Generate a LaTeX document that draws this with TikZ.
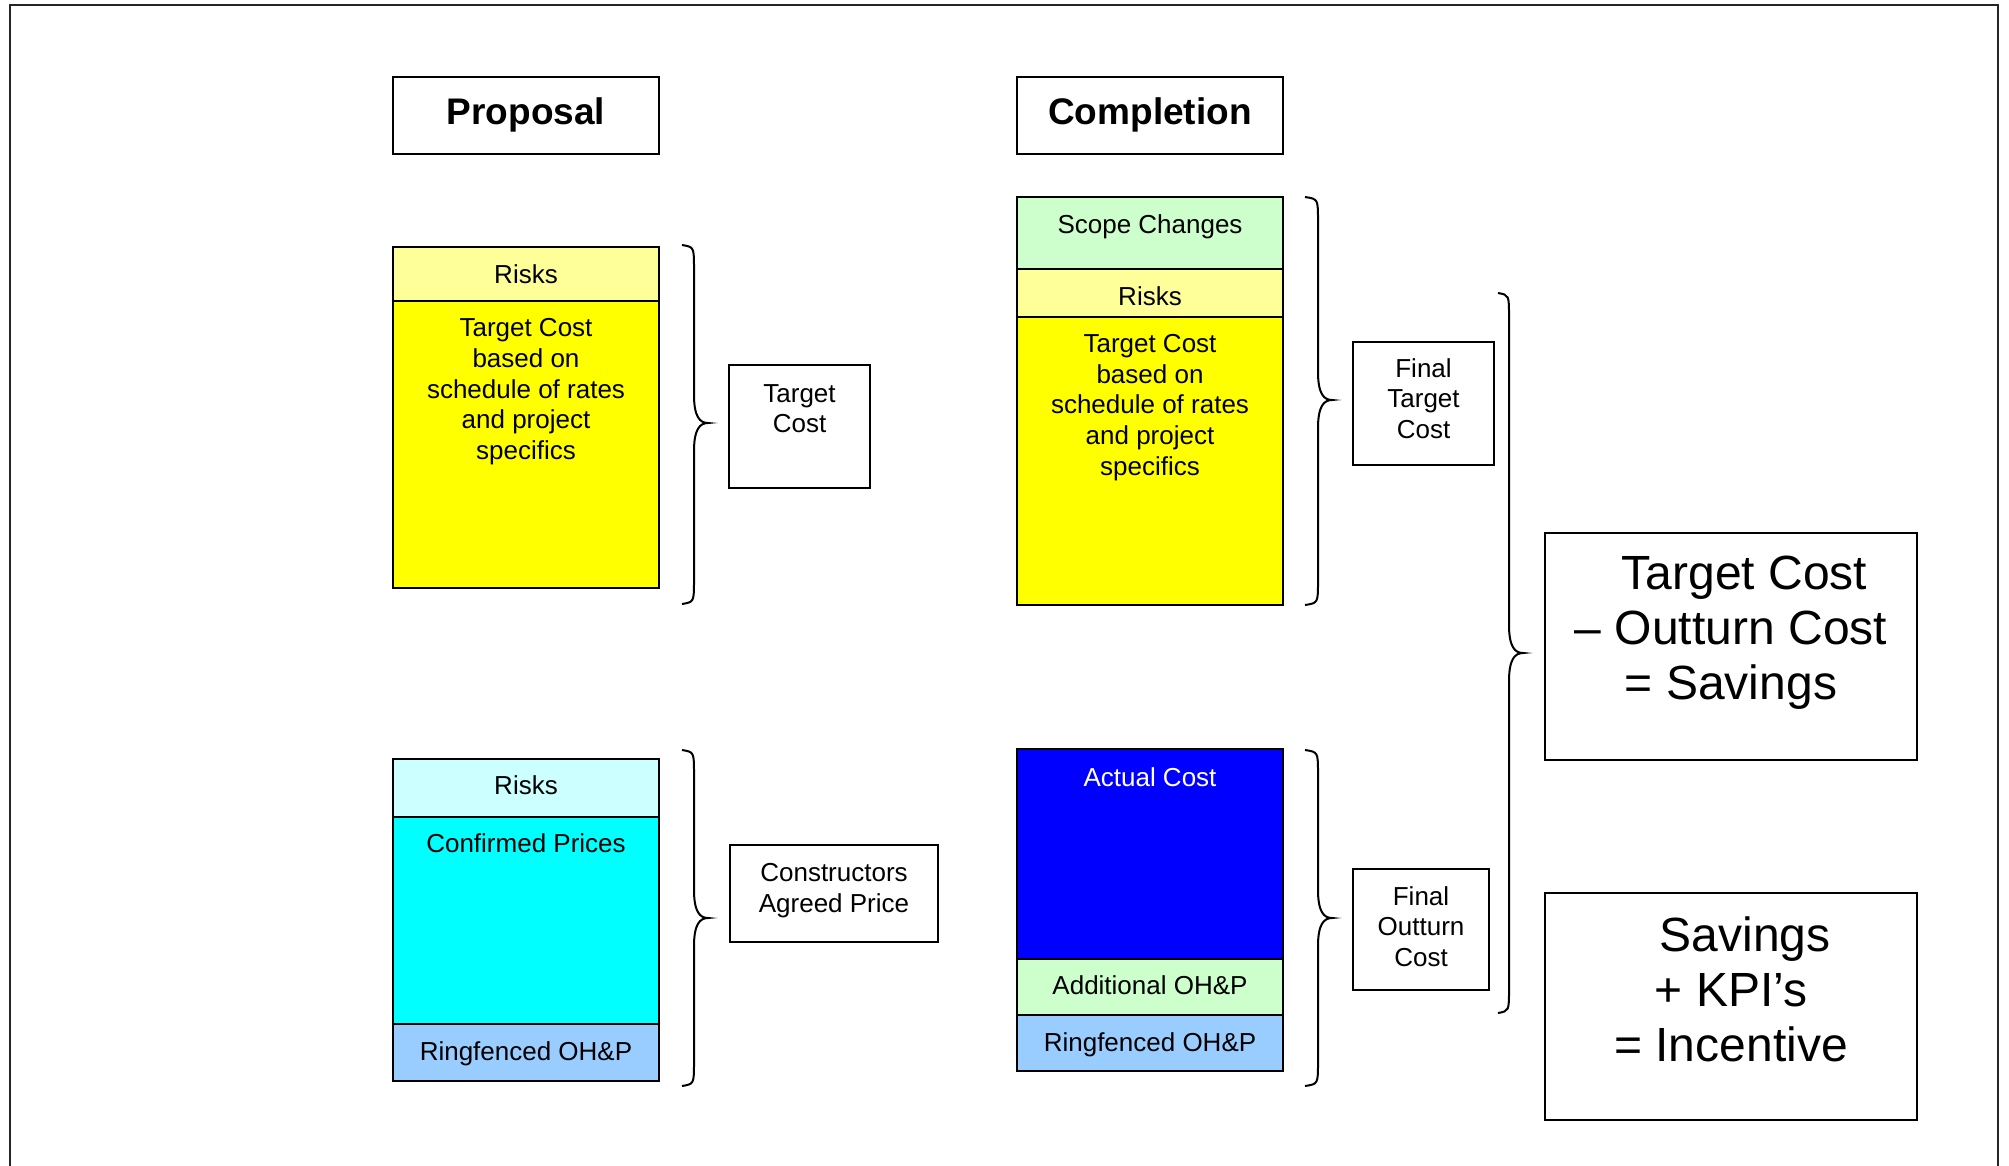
\documentclass[tikz,border=0pt]{standalone}
\usepackage{fontspec}
\setmainfont{Liberation Sans}
\definecolor{lyellow}{HTML}{FFFF99}
\definecolor{yel}{HTML}{FFFF00}
\definecolor{lgreen}{HTML}{CCFFCC}
\definecolor{lcyan}{HTML}{CCFFFF}
\definecolor{cyn}{HTML}{00FFFF}
\definecolor{lblue}{HTML}{99CCFF}
\definecolor{blu}{HTML}{0000FF}
\newcommand{\curlybr}[6]{\draw[bracecurve] (#1,#4) .. controls (#2,#4+2) .. (#2,#4+24) -- (#2,#5-28) .. controls (#2,#5-6) and (#2+6,#5) .. (#3,#5) .. controls (#2+6,#5) and (#2,#5+6) .. (#2,#5+28) -- (#2,#6-24) .. controls (#2,#6-2) .. (#1,#6);}
\begin{document}
\begin{tikzpicture}[x=1pt,y=-1pt,
  cell/.style={draw=black, line width=2.2pt, inner sep=0pt, minimum width=266pt},
  box/.style={draw=black, line width=2pt, inner sep=0pt},
  txt/.style={inner sep=0pt, align=center, font=\fontsize{26}{30.7}\selectfont},
  big/.style={inner sep=0pt, align=center, font=\fontsize{48}{55}\selectfont},
  head/.style={inner sep=0pt, font=\fontsize{37}{44}\selectfont\bfseries},
  bracecurve/.style={draw=black, line width=2pt}]
\fill[white] (0,0) rectangle (2009,1165);
\useasboundingbox (0,0) rectangle (2009,1165);
% outer frame
\draw[line width=2.5pt, black!85] (10,1180) -- (10,5) -- (1998,5) -- (1998,1180);

% headings
\node[box, minimum width=266pt, minimum height=77pt] (prop) at (526,115.5) {};
\node[head, anchor=base] (propT) at (526,124) {Proposal};
\node[box, minimum width=266pt, minimum height=77pt] (comp) at (1150,115.5) {};
\node[head, anchor=base] (compT) at (1150,124) {Completion};

% proposal top stack
\node[cell, fill=lyellow, minimum height=54pt] (pRisk) at (526,274) {};
\node[cell, fill=yel, minimum height=287pt] (pTarget) at (526,444.5) {};
\node[txt, anchor=base] (pRiskT) at (526,283) {Risks};
\node[txt, anchor=north] (pTargetT) at (526,318.5) {Target Cost\\based on\\schedule of rates\\and project\\specifics};

% completion top stack
\node[cell, fill=lgreen, minimum height=72pt] (cScope) at (1150,233) {};
\node[cell, fill=lyellow, minimum height=48pt] (cRisk) at (1150,293) {};
\node[cell, fill=yel, minimum height=288pt] (cTarget) at (1150,461) {};
\node[txt, anchor=base] (cScopeT) at (1150,233) {Scope Changes};
\node[txt, anchor=base] (cRiskT) at (1150,305) {Risks};
\node[txt, anchor=north] (cTargetT) at (1150,334) {Target Cost\\based on\\schedule of rates\\and project\\specifics};

% proposal bottom stack
\node[cell, fill=lcyan, minimum height=58pt] (pRisk2) at (526,788) {};
\node[cell, fill=cyn, minimum height=207pt] (pConf) at (526,920.5) {};
\node[cell, fill=lblue, minimum height=57pt] (pRing) at (526,1052.5) {};
\node[txt, anchor=base] (pRisk2T) at (526,794) {Risks};
\node[txt, anchor=base] (pConfT) at (526,852) {Confirmed Prices};
\node[txt, anchor=base] (pRingT) at (526,1060) {Ringfenced OH\&P};

% completion bottom stack
\node[cell, fill=blu, minimum height=210pt] (cActual) at (1150,854) {};
\node[cell, fill=lgreen, minimum height=56pt] (cAdd) at (1150,987) {};
\node[cell, fill=lblue, minimum height=56pt] (cRing) at (1150,1043) {};
\node[txt, anchor=base, text=white] (cActualT) at (1150,786) {Actual Cost};
\node[txt, anchor=base] (cAddT) at (1150,994) {Additional OH\&P};
\node[txt, anchor=base] (cRingT) at (1150,1051) {Ringfenced OH\&P};

% label boxes
\node[box, minimum width=141pt, minimum height=123pt] (tcBox) at (799.5,426.5) {};
\node[txt, anchor=north] (tcT) at (799.5,384) {Target\\Cost};
\node[box, minimum width=208pt, minimum height=97pt] (capBox) at (834,893.5) {};
\node[txt, anchor=north] (capT) at (834,863) {Constructors\\Agreed Price};
\node[box, minimum width=141pt, minimum height=123pt] (ftcBox) at (1423.5,403.5) {};
\node[txt, anchor=north] (ftcT) at (1423.5,358) {Final\\Target\\Cost};
\node[box, minimum width=136pt, minimum height=121pt] (fotBox) at (1421,929.5) {};
\node[txt, anchor=north] (fotT) at (1421,886) {Final\\Outturn\\Cost};

% result boxes
\node[box, minimum width=372pt, minimum height=227pt] (savBox) at (1731,646.5) {};
\node[big, anchor=north] (savT) at (1731,556) {\hspace*{27pt}Target Cost\\– Outturn Cost\\= Savings};
\node[box, minimum width=372pt, minimum height=227pt] (incBox) at (1731,1006.5) {};
\node[big, anchor=north] (incT) at (1731,917) {\hspace*{28pt}Savings\\+ KPI’s\\= Incentive};

% braces
\curlybr{682}{694}{708}{245}{423}{604}
\curlybr{682}{694}{708}{750}{918}{1086}
\curlybr{1305}{1318}{1332}{197}{400}{605}
\curlybr{1305}{1318}{1332}{750}{918}{1086}
\curlybr{1498}{1509}{1523}{293}{653}{1013}
\end{tikzpicture}
\end{document}
